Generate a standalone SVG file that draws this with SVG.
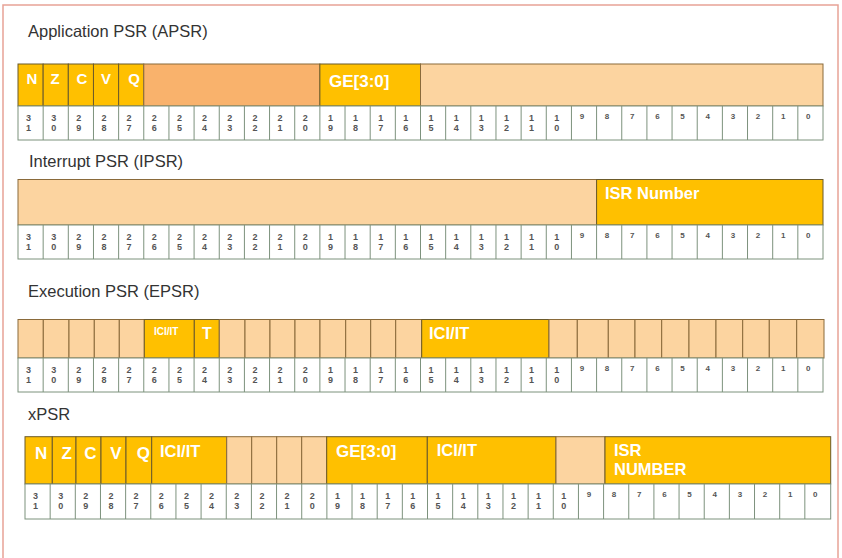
<svg xmlns="http://www.w3.org/2000/svg" width="842" height="558" viewBox="0 0 842 558">
<style>
.title{font-family:"Liberation Sans",Arial,sans-serif;font-size:16.5px;fill:#333}
.lbl{font-family:"Liberation Sans",Arial,sans-serif;font-weight:bold;fill:#fff}
.c{text-anchor:middle}
.d{font-family:"Liberation Sans",Arial,sans-serif;font-weight:bold;font-size:9px;fill:#555;text-anchor:middle}
.s{font-family:"Liberation Sans",Arial,sans-serif;font-weight:bold;font-size:8px;fill:#555;text-anchor:middle}
.gold{fill:#FFC000;stroke:#6b5a2a;stroke-width:1}
.peach{fill:#FCD4A0;stroke:#8a6a3a;stroke-width:1}
.orange{fill:#F9B26C;stroke:#8a6a3a;stroke-width:1}
.cells{fill:#fff;stroke:#7d927d;stroke-width:1}
.grid{stroke:#7d927d;stroke-width:1;fill:none}
</style>
<rect x="0" y="0" width="842" height="558" fill="#fff"/>
<rect x="3" y="5" width="835" height="560" fill="#fff" stroke="#E7A396" stroke-width="1.5"/>

<g id="apsr">
<text class="title" x="28" y="37">Application PSR (APSR)</text>
<rect class="gold" x="18" y="64" width="25.16" height="42"/>
<rect class="gold" x="43.16" y="64" width="25.15" height="42"/>
<rect class="gold" x="68.31" y="64" width="25.16" height="42"/>
<rect class="gold" x="93.47" y="64" width="25.16" height="42"/>
<rect class="gold" x="118.63" y="64" width="25.15" height="42"/>
<rect class="orange" x="143.78" y="64" width="176.1" height="42"/>
<rect class="gold" x="319.88" y="64" width="100.62" height="42"/>
<rect class="peach" x="420.5" y="64" width="402.5" height="42"/>
<g class="lbl c" font-size="15">
<text x="32" y="83.5">N</text><text x="55" y="83.5">Z</text><text x="82" y="83.5">C</text><text x="106" y="83.5">V</text><text x="134" y="83.5">Q</text>
</g>
<text class="lbl" x="329" y="87" font-size="17">GE[3:0]</text>
<g transform="translate(0,106)">
<rect class="cells" x="18" y="0" width="805" height="34"/>
<path class="grid" d="M43.16 0V34M68.31 0V34M93.47 0V34M118.63 0V34M143.78 0V34M168.94 0V34M194.09 0V34M219.25 0V34M244.41 0V34M269.56 0V34M294.72 0V34M319.88 0V34M345.03 0V34M370.19 0V34M395.34 0V34M420.5 0V34M445.66 0V34M470.81 0V34M495.97 0V34M521.13 0V34M546.28 0V34M571.44 0V34M596.59 0V34M621.75 0V34M646.91 0V34M672.06 0V34M697.22 0V34M722.38 0V34M747.53 0V34M772.69 0V34M797.84 0V34"/>
<text class="d" x="28.5" y="15">3<tspan x="28.5" y="25">1</tspan></text>
<text class="d" x="53.7" y="15">3<tspan x="53.7" y="25">0</tspan></text>
<text class="d" x="78.8" y="15">2<tspan x="78.8" y="25">9</tspan></text>
<text class="d" x="104" y="15">2<tspan x="104" y="25">8</tspan></text>
<text class="d" x="129.1" y="15">2<tspan x="129.1" y="25">7</tspan></text>
<text class="d" x="154.3" y="15">2<tspan x="154.3" y="25">6</tspan></text>
<text class="d" x="179.4" y="15">2<tspan x="179.4" y="25">5</tspan></text>
<text class="d" x="204.6" y="15">2<tspan x="204.6" y="25">4</tspan></text>
<text class="d" x="229.8" y="15">2<tspan x="229.8" y="25">3</tspan></text>
<text class="d" x="254.9" y="15">2<tspan x="254.9" y="25">2</tspan></text>
<text class="d" x="280.1" y="15">2<tspan x="280.1" y="25">1</tspan></text>
<text class="d" x="305.2" y="15">2<tspan x="305.2" y="25">0</tspan></text>
<text class="d" x="330.4" y="15">1<tspan x="330.4" y="25">9</tspan></text>
<text class="d" x="355.5" y="15">1<tspan x="355.5" y="25">8</tspan></text>
<text class="d" x="380.7" y="15">1<tspan x="380.7" y="25">7</tspan></text>
<text class="d" x="405.8" y="15">1<tspan x="405.8" y="25">6</tspan></text>
<text class="d" x="431" y="15">1<tspan x="431" y="25">5</tspan></text>
<text class="d" x="456.2" y="15">1<tspan x="456.2" y="25">4</tspan></text>
<text class="d" x="481.3" y="15">1<tspan x="481.3" y="25">3</tspan></text>
<text class="d" x="506.5" y="15">1<tspan x="506.5" y="25">2</tspan></text>
<text class="d" x="531.6" y="15">1<tspan x="531.6" y="25">1</tspan></text>
<text class="d" x="556.8" y="15">1<tspan x="556.8" y="25">0</tspan></text>
<text class="s" x="581.9" y="13">9</text><text class="s" x="607.1" y="13">8</text><text class="s" x="632.3" y="13">7</text><text class="s" x="657.4" y="13">6</text><text class="s" x="682.6" y="13">5</text><text class="s" x="707.7" y="13">4</text><text class="s" x="732.9" y="13">3</text><text class="s" x="758" y="13">2</text><text class="s" x="783.2" y="13">1</text><text class="s" x="808.3" y="13">0</text>
</g>
</g>

<g id="ipsr">
<text class="title" x="29" y="166.5">Interrupt PSR (IPSR)</text>
<rect class="peach" x="18" y="179.5" width="578.59" height="45.5"/>
<rect class="gold" x="596.59" y="179.5" width="226.41" height="45.5"/>
<text class="lbl" x="605" y="199" font-size="16.5">ISR Number</text>
<g transform="translate(0,225)">
<rect class="cells" x="18" y="0" width="805" height="34"/>
<path class="grid" d="M43.16 0V34M68.31 0V34M93.47 0V34M118.63 0V34M143.78 0V34M168.94 0V34M194.09 0V34M219.25 0V34M244.41 0V34M269.56 0V34M294.72 0V34M319.88 0V34M345.03 0V34M370.19 0V34M395.34 0V34M420.5 0V34M445.66 0V34M470.81 0V34M495.97 0V34M521.13 0V34M546.28 0V34M571.44 0V34M596.59 0V34M621.75 0V34M646.91 0V34M672.06 0V34M697.22 0V34M722.38 0V34M747.53 0V34M772.69 0V34M797.84 0V34"/>
<text class="d" x="28.5" y="15">3<tspan x="28.5" y="25">1</tspan></text>
<text class="d" x="53.7" y="15">3<tspan x="53.7" y="25">0</tspan></text>
<text class="d" x="78.8" y="15">2<tspan x="78.8" y="25">9</tspan></text>
<text class="d" x="104" y="15">2<tspan x="104" y="25">8</tspan></text>
<text class="d" x="129.1" y="15">2<tspan x="129.1" y="25">7</tspan></text>
<text class="d" x="154.3" y="15">2<tspan x="154.3" y="25">6</tspan></text>
<text class="d" x="179.4" y="15">2<tspan x="179.4" y="25">5</tspan></text>
<text class="d" x="204.6" y="15">2<tspan x="204.6" y="25">4</tspan></text>
<text class="d" x="229.8" y="15">2<tspan x="229.8" y="25">3</tspan></text>
<text class="d" x="254.9" y="15">2<tspan x="254.9" y="25">2</tspan></text>
<text class="d" x="280.1" y="15">2<tspan x="280.1" y="25">1</tspan></text>
<text class="d" x="305.2" y="15">2<tspan x="305.2" y="25">0</tspan></text>
<text class="d" x="330.4" y="15">1<tspan x="330.4" y="25">9</tspan></text>
<text class="d" x="355.5" y="15">1<tspan x="355.5" y="25">8</tspan></text>
<text class="d" x="380.7" y="15">1<tspan x="380.7" y="25">7</tspan></text>
<text class="d" x="405.8" y="15">1<tspan x="405.8" y="25">6</tspan></text>
<text class="d" x="431" y="15">1<tspan x="431" y="25">5</tspan></text>
<text class="d" x="456.2" y="15">1<tspan x="456.2" y="25">4</tspan></text>
<text class="d" x="481.3" y="15">1<tspan x="481.3" y="25">3</tspan></text>
<text class="d" x="506.5" y="15">1<tspan x="506.5" y="25">2</tspan></text>
<text class="d" x="531.6" y="15">1<tspan x="531.6" y="25">1</tspan></text>
<text class="d" x="556.8" y="15">1<tspan x="556.8" y="25">0</tspan></text>
<text class="s" x="581.9" y="13">9</text><text class="s" x="607.1" y="13">8</text><text class="s" x="632.3" y="13">7</text><text class="s" x="657.4" y="13">6</text><text class="s" x="682.6" y="13">5</text><text class="s" x="707.7" y="13">4</text><text class="s" x="732.9" y="13">3</text><text class="s" x="758" y="13">2</text><text class="s" x="783.2" y="13">1</text><text class="s" x="808.3" y="13">0</text>
</g>
</g>

<g id="epsr">
<text class="title" x="28" y="297">Execution PSR (EPSR)</text>
<rect class="peach" x="18" y="319.5" width="25.3" height="38.5"/>
<rect class="peach" x="43.3" y="319.5" width="25.7" height="38.5"/>
<rect class="peach" x="69" y="319.5" width="25.3" height="38.5"/>
<rect class="peach" x="94.3" y="319.5" width="25" height="38.5"/>
<rect class="peach" x="119.3" y="319.5" width="25" height="38.5"/>
<rect class="gold" x="144.3" y="319.5" width="50" height="38.5"/>
<rect class="gold" x="194.3" y="319.5" width="25" height="38.5"/>
<rect class="peach" x="219.3" y="319.5" width="25.7" height="38.5"/>
<rect class="peach" x="245" y="319.5" width="25" height="38.5"/>
<rect class="peach" x="270" y="319.5" width="25" height="38.5"/>
<rect class="peach" x="295" y="319.5" width="25" height="38.5"/>
<rect class="peach" x="320" y="319.5" width="25.7" height="38.5"/>
<rect class="peach" x="345.7" y="319.5" width="25" height="38.5"/>
<rect class="peach" x="370.7" y="319.5" width="25" height="38.5"/>
<rect class="peach" x="395.7" y="319.5" width="26" height="38.5"/>
<rect class="gold" x="421.7" y="319.5" width="127.3" height="38.5"/>
<rect class="peach" x="549" y="319.5" width="28.3" height="38.5"/>
<rect class="peach" x="577.3" y="319.5" width="31" height="38.5"/>
<rect class="peach" x="608.3" y="319.5" width="26.7" height="38.5"/>
<rect class="peach" x="635" y="319.5" width="26.7" height="38.5"/>
<rect class="peach" x="661.7" y="319.5" width="27.3" height="38.5"/>
<rect class="peach" x="689" y="319.5" width="27" height="38.5"/>
<rect class="peach" x="716" y="319.5" width="26.7" height="38.5"/>
<rect class="peach" x="742.7" y="319.5" width="26.6" height="38.5"/>
<rect class="peach" x="769.3" y="319.5" width="27.4" height="38.5"/>
<rect class="peach" x="796.7" y="319.5" width="27.3" height="38.5"/>
<text class="lbl" x="154" y="335" font-size="10">ICI/IT</text>
<text class="lbl c" x="207" y="339" font-size="16">T</text>
<text class="lbl" x="429" y="339" font-size="16.5">ICI/IT</text>
<g transform="translate(0,358)">
<rect class="cells" x="18" y="0" width="805" height="34"/>
<path class="grid" d="M43.16 0V34M68.31 0V34M93.47 0V34M118.63 0V34M143.78 0V34M168.94 0V34M194.09 0V34M219.25 0V34M244.41 0V34M269.56 0V34M294.72 0V34M319.88 0V34M345.03 0V34M370.19 0V34M395.34 0V34M420.5 0V34M445.66 0V34M470.81 0V34M495.97 0V34M521.13 0V34M546.28 0V34M571.44 0V34M596.59 0V34M621.75 0V34M646.91 0V34M672.06 0V34M697.22 0V34M722.38 0V34M747.53 0V34M772.69 0V34M797.84 0V34"/>
<text class="d" x="28.5" y="15">3<tspan x="28.5" y="25">1</tspan></text>
<text class="d" x="53.7" y="15">3<tspan x="53.7" y="25">0</tspan></text>
<text class="d" x="78.8" y="15">2<tspan x="78.8" y="25">9</tspan></text>
<text class="d" x="104" y="15">2<tspan x="104" y="25">8</tspan></text>
<text class="d" x="129.1" y="15">2<tspan x="129.1" y="25">7</tspan></text>
<text class="d" x="154.3" y="15">2<tspan x="154.3" y="25">6</tspan></text>
<text class="d" x="179.4" y="15">2<tspan x="179.4" y="25">5</tspan></text>
<text class="d" x="204.6" y="15">2<tspan x="204.6" y="25">4</tspan></text>
<text class="d" x="229.8" y="15">2<tspan x="229.8" y="25">3</tspan></text>
<text class="d" x="254.9" y="15">2<tspan x="254.9" y="25">2</tspan></text>
<text class="d" x="280.1" y="15">2<tspan x="280.1" y="25">1</tspan></text>
<text class="d" x="305.2" y="15">2<tspan x="305.2" y="25">0</tspan></text>
<text class="d" x="330.4" y="15">1<tspan x="330.4" y="25">9</tspan></text>
<text class="d" x="355.5" y="15">1<tspan x="355.5" y="25">8</tspan></text>
<text class="d" x="380.7" y="15">1<tspan x="380.7" y="25">7</tspan></text>
<text class="d" x="405.8" y="15">1<tspan x="405.8" y="25">6</tspan></text>
<text class="d" x="431" y="15">1<tspan x="431" y="25">5</tspan></text>
<text class="d" x="456.2" y="15">1<tspan x="456.2" y="25">4</tspan></text>
<text class="d" x="481.3" y="15">1<tspan x="481.3" y="25">3</tspan></text>
<text class="d" x="506.5" y="15">1<tspan x="506.5" y="25">2</tspan></text>
<text class="d" x="531.6" y="15">1<tspan x="531.6" y="25">1</tspan></text>
<text class="d" x="556.8" y="15">1<tspan x="556.8" y="25">0</tspan></text>
<text class="s" x="581.9" y="13">9</text><text class="s" x="607.1" y="13">8</text><text class="s" x="632.3" y="13">7</text><text class="s" x="657.4" y="13">6</text><text class="s" x="682.6" y="13">5</text><text class="s" x="707.7" y="13">4</text><text class="s" x="732.9" y="13">3</text><text class="s" x="758" y="13">2</text><text class="s" x="783.2" y="13">1</text><text class="s" x="808.3" y="13">0</text>
</g>
</g>

<g id="xpsr">
<text class="title" x="28" y="419.5">xPSR</text>
<rect class="gold" x="25" y="436.7" width="27.3" height="47.3"/>
<rect class="gold" x="52.3" y="436.7" width="23.7" height="47.3"/>
<rect class="gold" x="76" y="436.7" width="25" height="47.3"/>
<rect class="gold" x="101" y="436.7" width="25" height="47.3"/>
<rect class="gold" x="126" y="436.7" width="25.7" height="47.3"/>
<rect class="gold" x="151.7" y="436.7" width="75" height="47.3"/>
<rect class="peach" x="226.7" y="436.7" width="25" height="47.3"/>
<rect class="peach" x="251.7" y="436.7" width="25" height="47.3"/>
<rect class="peach" x="276.7" y="436.7" width="25" height="47.3"/>
<rect class="peach" x="301.7" y="436.7" width="25" height="47.3"/>
<rect class="gold" x="326.7" y="436.7" width="100.6" height="47.3"/>
<rect class="gold" x="427.3" y="436.7" width="128.7" height="47.3"/>
<rect class="peach" x="556" y="436.7" width="49" height="47.3"/>
<rect class="gold" x="605" y="436.7" width="225.7" height="47.3"/>
<g class="lbl c" font-size="17">
<text x="41.2" y="459">N</text><text x="66.7" y="459">Z</text><text x="90.5" y="459">C</text><text x="116" y="459">V</text><text x="143.3" y="459">Q</text>
</g>
<g class="lbl" font-size="16.5">
<text x="160" y="457">ICI/IT</text>
<text x="336" y="457" font-size="17">GE[3:0]</text>
<text x="436.7" y="456">ICI/IT</text>
<text x="614" y="456">ISR</text>
<text x="614" y="475">NUMBER</text>
</g>
<g transform="translate(7,484)">
<rect class="cells" x="18" y="0" width="805.7" height="35"/>
<path class="grid" d="M43.16 0V35M68.31 0V35M93.47 0V35M118.63 0V35M143.78 0V35M168.94 0V35M194.09 0V35M219.25 0V35M244.41 0V35M269.56 0V35M294.72 0V35M319.88 0V35M345.03 0V35M370.19 0V35M395.34 0V35M420.5 0V35M445.66 0V35M470.81 0V35M495.97 0V35M521.13 0V35M546.28 0V35M571.44 0V35M596.59 0V35M621.75 0V35M646.91 0V35M672.06 0V35M697.22 0V35M722.38 0V35M747.53 0V35M772.69 0V35M797.84 0V35"/>
<text class="d" x="28.5" y="15">3<tspan x="28.5" y="25">1</tspan></text>
<text class="d" x="53.7" y="15">3<tspan x="53.7" y="25">0</tspan></text>
<text class="d" x="78.8" y="15">2<tspan x="78.8" y="25">9</tspan></text>
<text class="d" x="104" y="15">2<tspan x="104" y="25">8</tspan></text>
<text class="d" x="129.1" y="15">2<tspan x="129.1" y="25">7</tspan></text>
<text class="d" x="154.3" y="15">2<tspan x="154.3" y="25">6</tspan></text>
<text class="d" x="179.4" y="15">2<tspan x="179.4" y="25">5</tspan></text>
<text class="d" x="204.6" y="15">2<tspan x="204.6" y="25">4</tspan></text>
<text class="d" x="229.8" y="15">2<tspan x="229.8" y="25">3</tspan></text>
<text class="d" x="254.9" y="15">2<tspan x="254.9" y="25">2</tspan></text>
<text class="d" x="280.1" y="15">2<tspan x="280.1" y="25">1</tspan></text>
<text class="d" x="305.2" y="15">2<tspan x="305.2" y="25">0</tspan></text>
<text class="d" x="330.4" y="15">1<tspan x="330.4" y="25">9</tspan></text>
<text class="d" x="355.5" y="15">1<tspan x="355.5" y="25">8</tspan></text>
<text class="d" x="380.7" y="15">1<tspan x="380.7" y="25">7</tspan></text>
<text class="d" x="405.8" y="15">1<tspan x="405.8" y="25">6</tspan></text>
<text class="d" x="431" y="15">1<tspan x="431" y="25">5</tspan></text>
<text class="d" x="456.2" y="15">1<tspan x="456.2" y="25">4</tspan></text>
<text class="d" x="481.3" y="15">1<tspan x="481.3" y="25">3</tspan></text>
<text class="d" x="506.5" y="15">1<tspan x="506.5" y="25">2</tspan></text>
<text class="d" x="531.6" y="15">1<tspan x="531.6" y="25">1</tspan></text>
<text class="d" x="556.8" y="15">1<tspan x="556.8" y="25">0</tspan></text>
<text class="s" x="581.9" y="13">9</text><text class="s" x="607.1" y="13">8</text><text class="s" x="632.3" y="13">7</text><text class="s" x="657.4" y="13">6</text><text class="s" x="682.6" y="13">5</text><text class="s" x="707.7" y="13">4</text><text class="s" x="732.9" y="13">3</text><text class="s" x="758" y="13">2</text><text class="s" x="783.2" y="13">1</text><text class="s" x="808.3" y="13">0</text>
</g>
</g>
</svg>
